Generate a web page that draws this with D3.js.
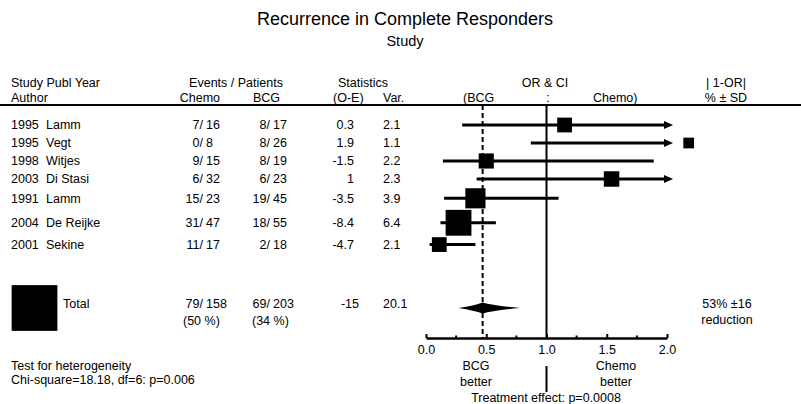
<!DOCTYPE html>
<html>
<head>
<meta charset="utf-8">
<script src="https://cdn.jsdelivr.net/npm/d3@7"></script>
<style>
  body { margin: 0; background: #fff; }
  svg { display: block; font-family: "Liberation Sans", Arial, sans-serif; }
</style>
</head>
<body>
<div id="chart"></div>
<script>
// study rows
const years = [1995, 1995, 1998, 2003, 1991, 2004, 2001];
const authors = ["Lamm", "Vegt", "Witjes", "Di Stasi", "Lamm", "De Reijke", "Sekine"];
const chemoEvents = [7, 0, 9, 6, 15, 31, 11];
const chemoPatients = [16, 8, 15, 32, 23, 47, 17];
const bcgEvents = [8, 8, 8, 6, 19, 18, 2];
const bcgPatients = [17, 26, 19, 23, 45, 55, 18];
const oMinusE = [0.3, 1.9, -1.5, 1, -3.5, -8.4, -4.7];
const variance = [2.1, 1.1, 2.2, 2.3, 3.9, 6.4, 2.1];
// odds ratio & 95% CI as drawn (Vegt's box sits past the end of the axis)
const oddsRatio = [1.15, 2.18, 0.50, 1.54, 0.41, 0.27, 0.11];
const ciLow = [0.30, 0.87, 0.14, 0.42, 0.15, 0.12, 0.03];
const ciHigh = [null, null, 1.89, null, 1.10, 0.58, 0.41]; // null = runs off the scale (arrow)

// overall
const totalChemo = [79, 158];
const totalBcg = [69, 203];
const totalPercent = [50, 34];
const totalOE = -15;
const totalVar = 20.1;
const overallOR = 0.47;
const overallCI = [0.27, 0.78];

const majorTicks = [0, 0.5, 1, 1.5, 2];
const minorTicks = [0.25, 0.75, 1.25, 1.75];

const WIDTH = 801, HEIGHT = 404;
const HEADER_LINE_Y = 105;
const AXIS_Y = 338;
const FIRST_ROW_Y = 125;
const TOTAL_Y = 308;
const BOX_K = 10.2;   // box side = k * sqrt(var)
const FS = 12.5;
const INK = "#000";

const svg = d3.select("#chart").append("svg")
    .attr("width", WIDTH)
    .attr("height", HEIGHT);

const x = d3.scaleLinear().domain([0, 2]).range([426, 667]);
const boxSize = v => BOX_K * Math.sqrt(v);

// row centres: spacing grows with the size of neighbouring boxes
let rowY = [FIRST_ROW_Y];
for (let i = 1; i < years.length; i++) {
    let step = Math.max(18, (boxSize(variance[i - 1]) + boxSize(variance[i])) / 2 + 1.5);
    rowY.push(rowY[i - 1] + step);
}

let addText = function (g, str, px, py, anchor, size) {
    return g.append("text")
        .attr("x", px)
        .attr("y", py)
        .attr("text-anchor", anchor || "start")
        .attr("font-size", size || FS)
        .attr("fill", INK)
        .text(str);
};

// Title
addText(svg, "Recurrence in Complete Responders", 405, 25, "middle", 18);
addText(svg, "Study", 405, 46, "middle", 14.5);

// Column headers
let head = svg.append("g");
addText(head, "Study Publ Year", 11, 87);
addText(head, "Author", 11, 101.5);
addText(head, "Events / Patients", 236, 87, "middle");
addText(head, "Chemo", 220, 101.5, "end");
addText(head, "BCG", 280, 101.5, "end");
addText(head, "Statistics", 363, 87, "middle");
addText(head, "(O-E)", 333, 101.5);
addText(head, "Var.", 383, 101.5);
addText(head, "OR & CI", 545, 87, "middle");
addText(head, "(BCG", 463, 101.5);
addText(head, ":", 548, 101.5, "middle");
addText(head, "Chemo)", 593, 101.5);
addText(head, "| 1-OR|", 726, 87, "middle");
addText(head, "% \u00b1 SD", 726, 101.5, "middle");

svg.append("line")
    .attr("x1", 0).attr("x2", WIDTH)
    .attr("y1", HEADER_LINE_Y).attr("y2", HEADER_LINE_Y)
    .attr("stroke", INK).attr("stroke-width", 2);

// Reference lines
svg.append("line")
    .attr("x1", x(1)).attr("x2", x(1))
    .attr("y1", HEADER_LINE_Y).attr("y2", AXIS_Y)
    .attr("stroke", INK).attr("stroke-width", 2);
svg.append("line")
    .attr("x1", x(1)).attr("x2", x(1))
    .attr("y1", 366).attr("y2", 392)
    .attr("stroke", INK).attr("stroke-width", 2);
svg.append("line")
    .attr("x1", x(overallOR)).attr("x2", x(overallOR))
    .attr("y1", HEADER_LINE_Y).attr("y2", AXIS_Y)
    .attr("stroke", INK).attr("stroke-width", 2)
    .attr("stroke-dasharray", "5,3");

// Table rows
let rows = svg.append("g");
years.forEach(function (yr, i) {
    let by = rowY[i] + 4.3;
    addText(rows, yr, 11, by);
    addText(rows, authors[i], 46, by);
    addText(rows, chemoEvents[i] + "/", 203, by, "end");
    addText(rows, chemoPatients[i], 206, by);
    addText(rows, bcgEvents[i] + "/", 270, by, "end");
    addText(rows, bcgPatients[i], 273, by);
    addText(rows, oMinusE[i], 354, by, "end");
    addText(rows, variance[i], 383, by);
});

// Forest marks
let marks = svg.append("g");
const ARROW_END = 2.05;
years.forEach(function (yr, i) {
    let cy = rowY[i];
    let hi = ciHigh[i];
    let xEnd = hi === null ? x(ARROW_END) - 8 : x(hi);
    marks.append("line")
        .attr("x1", x(ciLow[i])).attr("x2", xEnd)
        .attr("y1", cy).attr("y2", cy)
        .attr("stroke", INK).attr("stroke-width", 3);
    if (hi === null) {
        let tip = x(ARROW_END);
        marks.append("path")
            .attr("d", `M${tip},${cy} L${tip - 9},${cy - 4} L${tip - 9},${cy + 4} Z`)
            .attr("fill", INK);
    }
    let s = boxSize(variance[i]);
    marks.append("rect")
        .attr("x", x(oddsRatio[i]) - s / 2)
        .attr("y", cy - s / 2)
        .attr("width", s)
        .attr("height", s)
        .attr("fill", INK);
});

// Total row
let tot = svg.append("g");
let ts = boxSize(totalVar);
tot.append("rect")
    .attr("x", 34.5 - ts / 2)
    .attr("y", TOTAL_Y - ts / 2)
    .attr("width", ts)
    .attr("height", ts)
    .attr("fill", INK);
addText(tot, "Total", 63, TOTAL_Y);
addText(tot, totalChemo[0] + "/", 203, TOTAL_Y, "end");
addText(tot, totalChemo[1], 206, TOTAL_Y);
addText(tot, totalBcg[0] + "/", 270, TOTAL_Y, "end");
addText(tot, totalBcg[1], 273, TOTAL_Y);
addText(tot, `(${totalPercent[0]} %)`, 183, TOTAL_Y + 17);
addText(tot, `(${totalPercent[1]} %)`, 252, TOTAL_Y + 17);
addText(tot, totalOE, 359, TOTAL_Y, "end");
addText(tot, totalVar, 383, TOTAL_Y);

// overall diamond (slightly concave sides)
let dl = x(overallCI[0]), dr = x(overallCI[1]), dc = x(overallOR), dy = TOTAL_Y, dh = 5.5;
tot.append("path")
    .attr("d", `M${dl},${dy} Q${dc - 8},${dy - 2.5} ${dc},${dy - dh}` +
               ` Q${dc + 10},${dy - 2.5} ${dr},${dy}` +
               ` Q${dc + 10},${dy + 2.5} ${dc},${dy + dh}` +
               ` Q${dc - 8},${dy + 2.5} ${dl},${dy} Z`)
    .attr("fill", INK);

let reduction = Math.round((1 - overallOR) * 100);
addText(tot, `${reduction}% \u00b116`, 727, TOTAL_Y, "middle");
addText(tot, "reduction", 727, TOTAL_Y + 16, "middle");

// Axis
let axis = svg.append("g")
    .attr("transform", `translate(0, ${AXIS_Y})`)
    .call(d3.axisBottom(x)
        .tickValues(majorTicks)
        .tickFormat(d3.format(".1f"))
        .tickSize(-4)
        .tickSizeOuter(0)
        .tickPadding(7));
axis.select(".domain").attr("stroke", INK).attr("stroke-width", 2.5);
axis.selectAll(".tick line").attr("stroke", INK).attr("stroke-width", 2);
axis.selectAll(".tick text")
    .attr("font-size", FS)
    .attr("font-family", "Liberation Sans, Arial, sans-serif")
    .attr("fill", INK);

svg.append("g")
    .attr("transform", `translate(0, ${AXIS_Y})`)
    .selectAll("line")
    .data(minorTicks)
    .join("line")
    .attr("x1", d => x(d)).attr("x2", d => x(d))
    .attr("y1", 0).attr("y2", -2.5)
    .attr("stroke", INK).attr("stroke-width", 2);

// Axis captions
let cap = svg.append("g");
addText(cap, "BCG", 476, 370, "middle");
addText(cap, "better", 476, 385.5, "middle");
addText(cap, "Chemo", 616, 370, "middle");
addText(cap, "better", 616, 385.5, "middle");
addText(cap, "Treatment effect: p=0.0008", 546, 401.5, "middle");

addText(cap, "Test for heterogeneity", 11, 369.5);
addText(cap, "Chi-square=18.18, df=6: p=0.006", 11, 383.5);
</script>
</body>
</html>
